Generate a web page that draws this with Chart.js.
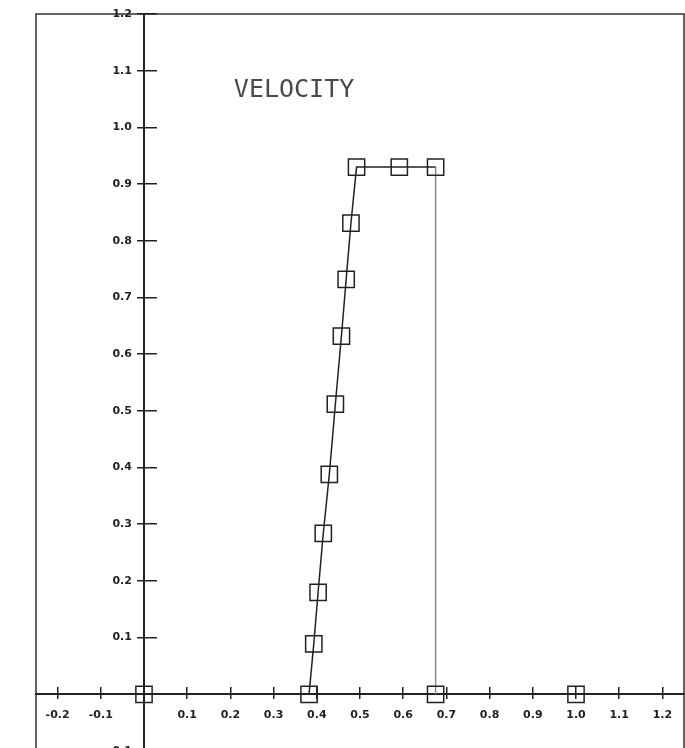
<!DOCTYPE html>
<html>
<head>
<meta charset="utf-8">
<title>Velocity</title>
<script src="https://cdn.jsdelivr.net/npm/chart.js@4.4.1/dist/chart.umd.min.js"></script>
<style>
  html, body { margin: 0; padding: 0; background: #fff; overflow: hidden; }
  canvas { display: block; }
</style>
</head>
<body>
<canvas id="velocityChart" width="685" height="766"></canvas>
<script>
// values
const profileX = [0.382, 0.393, 0.403, 0.415, 0.429, 0.443, 0.457, 0.468, 0.479, 0.492, 0.591, 0.675];
const profileY = [0, 0.089, 0.180, 0.284, 0.388, 0.512, 0.632, 0.732, 0.831, 0.930, 0.930, 0.930];
const wallX = [0.675, 0.675];
const wallY = [0.930, 0];
const markX = [0, 1.0];
const markY = [0, 0];

// tick positions / labels
const xTickValues = [-0.2, -0.1, 0.1, 0.2, 0.3, 0.4, 0.5, 0.6, 0.7, 0.8, 0.9, 1.0, 1.1, 1.2];
const yTickValues = [-0.1, 0.1, 0.2, 0.3, 0.4, 0.5, 0.6, 0.7, 0.8, 0.9, 1.0, 1.1, 1.2];

const titleText = 'VELOCITY';
const titleAt = { x: 0.208, y: 1.053 };

const ink = '#222';
const tickFont = { family: 'DejaVu Sans', size: 11, weight: 'bold' };

function toPoints(xs, ys) {
    return xs.map((x, i) => ({ x: x, y: ys[i] }));
}

function setTicks(values) {
    return function (axis) {
        axis.ticks = values.map(v => ({ value: v }));
    };
}

// box round the plotting area
const framePlugin = {
    id: 'frame',
    beforeDraw(chart) {
        const { ctx, chartArea } = chart;
        ctx.save();
        ctx.strokeStyle = '#333';
        ctx.lineWidth = 1.5;
        ctx.strokeRect(chartArea.left, chartArea.top, chartArea.right - chartArea.left, chartArea.bottom - chartArea.top);
        ctx.restore();
    }
};

// the label inside the plot
const innerTitlePlugin = {
    id: 'innerTitle',
    afterDatasetsDraw(chart) {
        const { ctx, scales } = chart;
        ctx.save();
        ctx.font = '25px "DejaVu Sans Mono"';
        ctx.fillStyle = '#4a4a4a';
        ctx.textBaseline = 'alphabetic';
        ctx.fillText(titleText, scales.x.getPixelForValue(titleAt.x), scales.y.getPixelForValue(titleAt.y));
        ctx.restore();
    }
};

const xRange = { type: 'linear', axis: 'x', min: -0.25, max: 1.25, afterBuildTicks: setTicks(xTickValues) };
const yRange = { type: 'linear', axis: 'y', min: -0.1, max: 1.2, afterBuildTicks: setTicks(yTickValues) };
const noTicks = { display: false };

const ctx = document.getElementById('velocityChart').getContext('2d');
window.velocityChart = new Chart(ctx, {
    type: 'scatter',
    data: {
        datasets: [{
            label: 'Profile',
            data: toPoints(profileX, profileY),
            showLine: true,
            borderColor: ink,
            borderWidth: 1.5,
            tension: 0,
            pointStyle: 'rect',
            pointRadius: 11.5,
            pointBorderWidth: 1.5,
            pointBorderColor: ink,
            pointBackgroundColor: 'rgba(0,0,0,0)',
            xAxisID: 'x',
            yAxisID: 'y'
        }, {
            label: 'Wall',
            data: toPoints(wallX, wallY),
            showLine: true,
            borderColor: '#8a8a8a',
            borderWidth: 1.5,
            pointStyle: 'rect',
            pointRadius: [0, 11.5],
            pointBorderWidth: 1.5,
            pointBorderColor: ink,
            pointBackgroundColor: 'rgba(0,0,0,0)',
            xAxisID: 'x',
            yAxisID: 'y'
        }, {
            label: 'Marks',
            data: toPoints(markX, markY),
            showLine: false,
            pointStyle: 'rect',
            pointRadius: 11.5,
            pointBorderWidth: 1.5,
            pointBorderColor: ink,
            pointBackgroundColor: 'rgba(0,0,0,0)',
            xAxisID: 'x',
            yAxisID: 'y'
        }]
    },
    options: {
        responsive: false,
        animation: false,
        layout: {
            autoPadding: false, // point size would otherwise push the right edge in
            padding: { left: 36, right: 1, top: 14, bottom: 15 }
        },
        scales: {
            // x labels, a row just under y = 0
            x: {
                ...xRange,
                position: { y: -0.0247 },
                border: { display: false },
                grid: { display: false, drawTicks: false },
                ticks: { padding: 0, color: ink, font: tickFont, callback: v => v.toFixed(1) }
            },
            // x axis line through y = 0, tick marks hanging down
            xAxis: {
                ...xRange,
                position: { y: 0 },
                border: { color: ink, width: 2 },
                grid: { drawOnChartArea: false, tickLength: -8, color: ink, lineWidth: 1.5 },
                ticks: noTicks
            },
            // upper half of the x tick marks
            xUp: {
                ...xRange,
                position: { y: 0 },
                border: { display: false },
                grid: { drawOnChartArea: false, tickLength: 5, color: ink, lineWidth: 1.5 },
                ticks: noTicks
            },
            // y labels, set a little left of x = 0
            y: {
                ...yRange,
                position: { x: -0.028 },
                border: { display: false },
                grid: { display: false, drawTicks: false },
                ticks: { padding: 0, color: ink, font: tickFont, callback: v => v.toFixed(1) }
            },
            // y axis line through x = 0 with left tick halves
            yAxis: {
                ...yRange,
                position: { x: 0 },
                border: { color: ink, width: 2 },
                grid: { drawOnChartArea: false, tickLength: 6, color: ink, lineWidth: 1.5 },
                ticks: noTicks
            },
            // right tick halves
            yRight: {
                ...yRange,
                position: { x: 0 },
                border: { display: false },
                grid: { drawOnChartArea: false, tickLength: -13, color: ink, lineWidth: 1.5 },
                ticks: noTicks
            }
        },
        plugins: {
            legend: { display: false },
            tooltip: { enabled: false }
        }
    },
    plugins: [framePlugin, innerTitlePlugin]
});
</script>
</body>
</html>
